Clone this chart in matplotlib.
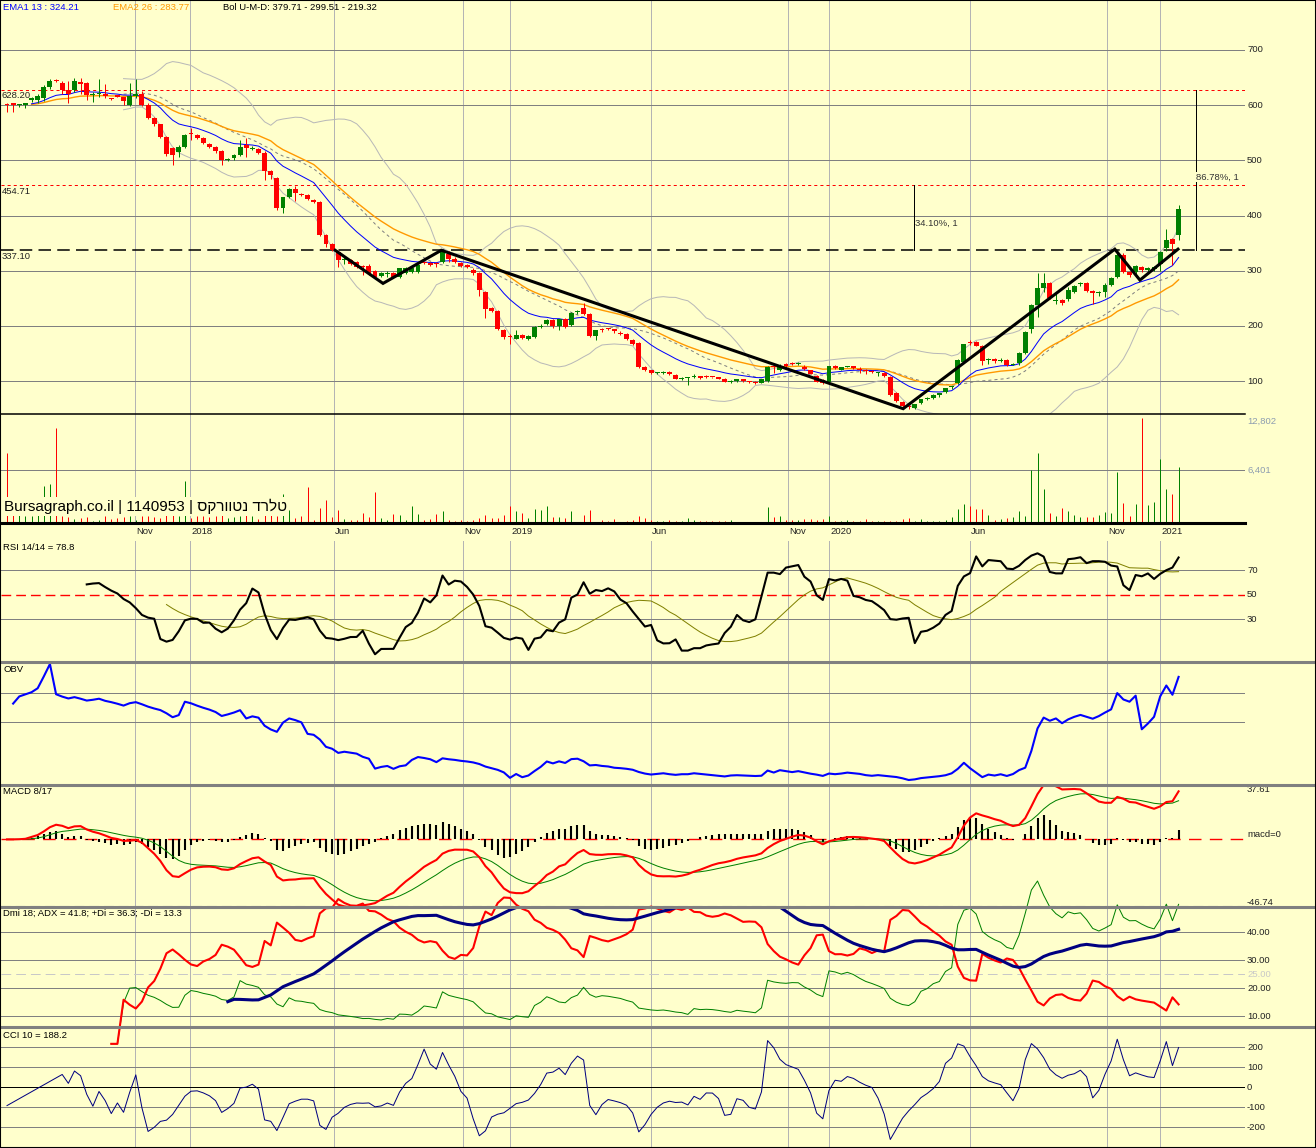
import numpy as np
import pandas as pd
import matplotlib
matplotlib.use("Agg")
import matplotlib.pyplot as plt
from matplotlib.lines import Line2D
from matplotlib.transforms import blended_transform_factory as blend

plt.rcParams['font.family'] = ['Liberation Sans', 'DejaVu Sans']
plt.rcParams['lines.scale_dashes'] = False

W, H = 1316, 1148
BG = '#FFFFCC'
PX = 0.72          # one pixel in points (dpi 100)
FS = 6.8

# weekly candles, Jun 2017 - Jan 2021
opens = [602, 603, 600, 600, 609, 609, 612, 632, 646, 640,
         627, 627, 642, 640, 619, 620, 621, 612, 618, 614,
         601, 617, 621, 601, 577, 565, 542, 522, 515, 525,
         549, 545, 540, 530, 525, 516, 501, 504, 510, 528,
         521, 521, 514, 481, 468, 413, 433, 448, 439, 438,
         428, 425, 365, 348, 334, 319, 320, 316, 308, 308,
         299, 290, 294, 296, 289, 296, 298, 298, 316, 314,
         314, 316, 331, 322, 314, 311, 302, 295, 261, 232,
         227, 192, 181, 177, 183, 177, 180, 198, 203, 210,
         199, 213, 201, 226, 233, 221, 181, 193, 195, 194,
         187, 186, 174, 169, 125, 120, 115, 115, 117, 111,
         104, 105, 108, 109, 108, 108, 107, 104, 99, 100,
         103, 100, 99, 97, 100, 126, 121, 131, 132, 131,
         126, 120, 109, 102, 99, 127, 121, 126, 127, 122,
         120, 118, 114, 115, 108, 78, 63, 54, 51, 61,
         67, 70, 74, 81, 89, 96, 135, 171, 171, 163,
         138, 140, 137, 139, 130, 132, 151, 195, 237, 268,
         277, 246, 247, 248, 261, 276, 278, 263, 259, 261,
         275, 288, 328, 298, 298, 307, 302, 303, 313, 342,
         357, 364]
highs = [603, 604, 602, 604, 614, 620, 637, 647, 648, 643,
         644, 649, 649, 642, 623, 648, 639, 613, 619, 615,
         640, 648, 626, 603, 579, 566, 544, 524, 527, 548,
         559, 547, 542, 532, 526, 518, 505, 511, 537, 540,
         526, 523, 516, 483, 470, 434, 450, 454, 441, 439,
         430, 427, 367, 350, 336, 324, 322, 318, 311, 313,
         301, 297, 300, 297, 305, 306, 305, 311, 318, 316,
         316, 337, 336, 324, 316, 313, 304, 297, 263, 234,
         229, 194, 186, 192, 186, 183, 199, 204, 212, 212,
         213, 215, 225, 229, 242, 223, 193, 196, 196, 195,
         190, 188, 176, 170, 127, 121, 117, 118, 118, 112,
         107, 107, 113, 110, 111, 108, 108, 105, 102, 104,
         104, 101, 100, 104, 127, 129, 131, 132, 134, 135,
         129, 121, 111, 103, 128, 129, 126, 128, 128, 125,
         122, 120, 116, 116, 109, 80, 64, 55, 59, 68,
         71, 76, 79, 88, 92, 140, 168, 174, 173, 165,
         142, 141, 141, 140, 133, 153, 190, 240, 295, 295,
         279, 259, 249, 270, 275, 279, 280, 265, 263, 277,
         288, 338, 332, 300, 310, 309, 307, 308, 336, 376,
         360, 419]
lows = [587, 588, 597, 594, 606, 603, 608, 630, 641, 620,
        603, 623, 620, 609, 605, 614, 612, 609, 614, 601,
        599, 612, 599, 575, 563, 540, 508, 492, 506, 523,
        536, 539, 529, 523, 514, 492, 498, 500, 508, 506,
        518, 512, 465, 467, 410, 405, 431, 427, 436, 428,
        422, 362, 343, 335, 307, 313, 311, 305, 293, 293,
        287, 288, 288, 286, 287, 294, 296, 296, 313, 309,
        307, 314, 315, 314, 307, 305, 293, 254, 214, 225,
        193, 177, 168, 176, 176, 175, 178, 196, 201, 197,
        192, 196, 199, 222, 219, 179, 174, 189, 193, 188,
        183, 175, 166, 124, 119, 113, 113, 113, 111, 103,
        102, 93, 106, 103, 105, 106, 103, 98, 97, 99,
        99, 97, 95, 96, 99, 115, 119, 126, 129, 130,
        120, 112, 98, 94, 97, 122, 120, 125, 122, 115,
        113, 114, 110, 108, 73, 62, 52, 50, 50, 59,
        65, 68, 72, 79, 86, 94, 132, 165, 163, 130,
        131, 133, 135, 128, 129, 130, 149, 188, 217, 262,
        248, 240, 237, 246, 259, 273, 261, 239, 255, 252,
        272, 286, 296, 289, 288, 298, 298, 300, 300, 336,
        310, 355]
closes = [600, 600, 601, 603, 613, 617, 632, 644, 643, 628,
          620, 643, 639, 619, 621, 622, 616, 611, 615, 608,
          617, 620, 601, 577, 565, 542, 512, 510, 525, 546,
          547, 541, 531, 525, 516, 501, 503, 510, 525, 522,
          523, 514, 481, 474, 413, 433, 448, 440, 438, 430,
          424, 364, 349, 337, 319, 321, 313, 307, 306, 295,
          289, 296, 295, 288, 304, 305, 304, 310, 314, 311,
          312, 334, 322, 316, 309, 307, 295, 265, 231, 227,
          195, 179, 180, 183, 178, 182, 198, 199, 210, 199,
          212, 198, 223, 227, 221, 181, 192, 192, 194, 190,
          186, 177, 168, 126, 120, 115, 116, 116, 112, 104,
          105, 105, 109, 105, 107, 107, 104, 99, 100, 103,
          100, 98, 97, 103, 125, 125, 127, 127, 131, 133,
          122, 113, 99, 96, 127, 123, 125, 127, 123, 121,
          119, 117, 115, 109, 75, 64, 54, 53, 58, 67,
          70, 75, 78, 87, 91, 138, 167, 169, 164, 137,
          139, 137, 139, 130, 131, 151, 189, 237, 268, 278,
          250, 247, 242, 265, 273, 277, 263, 259, 260, 275,
          286, 328, 298, 292, 308, 302, 305, 306, 334, 356,
          348, 412]
volumes = [8420, 2400, 2700, 800, 800, 1500, 4470, 4710, 11440, 900,
           700, 500, 600, 700, 300, 400, 800, 500, 600, 700,
           900, 400, 800, 900, 700, 600, 1200, 1500, 800, 5070,
           600, 900, 800, 700, 900, 1500, 600, 700, 900, 3140,
           800, 500, 3060, 1400, 900, 3500, 1570, 640, 850, 4350,
           360, 1770, 2780, 720, 1570, 440, 360, 360, 1210, 720,
           3740, 640, 360, 1090, 970, 360, 2050, 1090, 360, 480,
           1090, 1450, 360, 240, 360, 240, 360, 600, 970, 600,
           640, 970, 2050, 1450, 1210, 640, 1690, 1570, 2050, 720,
           760, 600, 1450, 160, 970, 1570, 160, 360, 200, 480,
           160, 240, 360, 850, 600, 360, 240, 240, 360, 240,
           240, 640, 360, 240, 240, 240, 240, 240, 360, 100,
           100, 100, 100, 100, 1970, 760, 890, 360, 360, 360,
           480, 480, 360, 480, 890, 240, 240, 360, 240, 240,
           480, 240, 240, 240, 240, 240, 480, 640, 240, 480,
           240, 240, 240, 360, 720, 1690, 2300, 2050, 1690, 1690,
           970, 360, 480, 640, 720, 1500, 900, 6360, 8500, 4110,
           1210, 890, 1810, 1450, 970, 720, 720, 720, 1000, 1330,
           1210, 6160, 2420, 850, 2300, 12720, 2180, 2540, 7730, 4110,
           3500, 6760]

tick_labels = ['Nov', '2018', 'Jun', 'Nov', '2019', 'Jun', 'Nov', '2020', 'Jun', 'Nov', '2021']
tick_pos = [20.9, 29.8, 53.3, 74.3, 82.0, 105.0, 127.3, 134.0, 157.0, 179.3, 188.0]

price_grid = [100, 200, 300, 400, 500, 600, 700]
red_levels = [628.20, 454.71]
support = 337.10
trend_x = [53.5, 61.3, 70.8, 146.1, 180.6, 184.7, 190.9]
trend_y = [337, 277, 337, 50, 339, 283, 339]
measure_x = [147.9, 193.8]
measure_top = [454.71, 628.20]
measure_text = ['34.10%, 1', '86.78%, 1']
measure_label_y = [385, 470]

macd_top, macd_bottom = 37.61, -46.74
cci_first = -93

# ---- indicators ----
o = pd.Series(opens, dtype=float)
h = pd.Series(highs, dtype=float)
l = pd.Series(lows, dtype=float)
c = pd.Series(closes, dtype=float)
v = pd.Series(volumes, dtype=float)
n = len(c)
xi = np.arange(n)

ema13 = c.ewm(span=13, adjust=False).mean()
ema26 = c.ewm(span=26, adjust=False).mean()
ema13[:4] = np.nan
ema26[:4] = np.nan
bmid = c.rolling(20).mean()
bsd = c.rolling(20).std(ddof=0)
bup = bmid + 2 * bsd
bdn = bmid - 2 * bsd

d = c.diff()
gain = d.clip(lower=0)
loss = -d.clip(upper=0)
ag = gain.rolling(14, min_periods=13).mean()
al = loss.rolling(14, min_periods=13).mean()
rsi = 100 * ag / (ag + al)
rsi_ma = rsi.rolling(14).mean()

obv = (np.sign(c - o) * v)
obv[:2] = 0
obv = obv.cumsum()
obv[:1] = np.nan

macd = c.ewm(span=8, adjust=False).mean() - c.ewm(span=17, adjust=False).mean()
signal = macd.ewm(span=9, adjust=False).mean()
hist = macd - signal

up_move = h.diff()
dn_move = -l.diff()
pdm = pd.Series(np.where((up_move > dn_move) & (up_move > 0), up_move, 0.0))
mdm = pd.Series(np.where((dn_move > up_move) & (dn_move > 0), dn_move, 0.0))
tr = pd.concat([h - l, (h - c.shift()).abs(), (l - c.shift()).abs()], axis=1).max(axis=1)
atr = tr.ewm(alpha=1 / 18, adjust=False).mean()
pdi = 100 * pdm.ewm(alpha=1 / 18, adjust=False).mean() / atr
mdi = 100 * mdm.ewm(alpha=1 / 18, adjust=False).mean() / atr
dx = 100 * (pdi - mdi).abs() / (pdi + mdi)
dx[:19] = 0
adx = dx.ewm(alpha=1 / 22, adjust=False).mean()
pdi[:17] = np.nan
mdi[:17] = np.nan
pdi[17:19] = 0
mdi[17:19] = 0
adx[:36] = np.nan

tp = (h + l + c) / 3
tp_ma = tp.rolling(10).mean()
tp_md = tp.rolling(10).apply(lambda a: np.mean(np.abs(a - a.mean())), raw=True)
cci = (tp - tp_ma) / (0.015 * tp_md)
cci[0] = cci_first
cci_ok = cci.notna().values

# ---- figure ----
fig = plt.figure(figsize=(W / 100, H / 100), dpi=100, facecolor=BG)
XMIN, XMAX = (1 - 7) / 6.134, (1245 - 7) / 6.134


def panel(top, bottom):
    ax = fig.add_axes([1 / W, 1 - bottom / H, 1244 / W, (bottom - top) / H])
    ax.set_facecolor(BG)
    ax.set_xlim(XMIN, XMAX)
    ax.set_xticks([])
    ax.set_yticks([])
    for s in ax.spines.values():
        s.set_visible(False)
    for t in tick_pos:
        ax.axvline(t, color='#b4b4b4', lw=PX, zorder=0)
    return ax


def hgrid(ax, y, color='#808080', lw=PX, ls='-'):
    ax.axhline(y, color=color, lw=lw, ls=ls, zorder=0.5)


def rlabel(ax, y, s, color='#222222', va='center'):
    ax.text(1 + 2 / 1244, y, s, transform=ax.get_yaxis_transform(), ha='left', va=va,
            fontsize=FS, color=color, clip_on=False)


def sep(y, x1, color, lw):
    fig.add_artist(Line2D([0, x1 / W], [1 - y / H] * 2, transform=fig.transFigure, color=color, lw=lw,
                          zorder=10))


# price panel
ax = panel(1, 414)
ax.set_ylim(40.4, 788.6)
for g in price_grid:
    hgrid(ax, g)
    rlabel(ax, g, str(g))
up = c >= o
col = np.where(up, '#008000', '#FF0000')
ax.vlines(xi, l, h, colors=col, lw=PX, zorder=3)
body = np.maximum((c - o).abs(), 1.8)
ax.bar(xi, body, bottom=np.minimum(o, c), width=0.8, color=col, lw=0, zorder=3)
ax.plot(xi, bup, color='#b8b8b8', lw=PX, zorder=2)
ax.plot(xi, bdn, color='#b8b8b8', lw=PX, zorder=2)
ax.plot(xi, bmid, color='#808080', lw=PX, ls=(0, (2.2, 2.2)), zorder=2)
ax.plot(xi, ema26, color='#FF9900', lw=1.0, zorder=2)
ax.plot(xi, ema13, color='#0000FF', lw=PX, zorder=2)
for lv in red_levels:
    ax.axhline(lv, color='#FF0000', lw=PX, ls=(0, (2.2, 2.2)), zorder=1)
ax.axhline(support, color='#000000', lw=1.1, ls=(0, (9, 4.5)), zorder=1)
ax.plot(trend_x, trend_y, color='#000000', lw=2.2, zorder=4, solid_joinstyle='miter')
for mx, mt, txt, ly in zip(measure_x, measure_top, measure_text, measure_label_y):
    ax.plot([mx, mx], [support, mt], color='#000000', lw=PX, zorder=4)
    ax.text(mx + 0.1, ly, txt, fontsize=FS, color='#333333', ha='left', va='center', zorder=5,
            bbox=dict(facecolor=BG, edgecolor='none', pad=0.5) if mt > 600 else None)
lt = blend(fig.transFigure, ax.transData)
for lv in red_levels + [support]:
    ax.text(2 / W, lv - 3, f'{lv:.2f}', transform=lt, fontsize=FS, color='#222222', va='top', ha='left', zorder=5)
fig.text(3 / W, 1 - 7 / H, 'EMA1 13 : 324.21', color='#0000FF', fontsize=FS, va='center')
fig.text(113 / W, 1 - 7 / H, 'EMA2 26 : 283.77', color='#FF9900', fontsize=FS, va='center')
fig.text(223 / W, 1 - 7 / H, 'Bol U-M-D: 379.71 - 299.51 - 219.32', color='#000000', fontsize=FS, va='center')

# volume panel
axv = panel(414, 523)
axv.set_ylim(0, 13170)
hgrid(axv, 6401)
rlabel(axv, 6401, '6,401', color='#8c9cb0')
rlabel(axv, 12802, '12,802', color='#8c9cb0', va='top')
axv.vlines(xi, 0, v, colors=col, lw=PX, zorder=3)
axv.text(4 / W, 0.08, 'Bursagraph.co.il | 1140953 | ' + 'סקרווטנ דרלט',
         transform=blend(fig.transFigure, axv.transAxes), fontsize=11, color='#000000',
         va='bottom', ha='left', zorder=6, bbox=dict(facecolor=BG, edgecolor='none', pad=1.2))
dt = blend(axv.transData, fig.transFigure)
for t, s in zip(tick_pos, tick_labels):
    axv.text(t + 0.2, 1 - 531 / H, s, transform=dt, fontsize=FS, color='#222222', ha='left', va='center')

# RSI
axr = panel(541, 662)
axr.set_ylim(-5.1, 93.7)
for g in (70, 30):
    hgrid(axr, g)
    rlabel(axr, g, str(g))
hgrid(axr, 50, color='#FF0000', lw=1.0, ls=(0, (7, 3.6)))
rlabel(axr, 50, '50')
axr.plot(xi, rsi_ma, color='#808000', lw=PX)
axr.plot(xi, rsi, color='#000000', lw=1.5)
axr.text(3 / W, 1 - 547 / H, 'RSI 14/14 = 78.8', transform=fig.transFigure, fontsize=FS, va='center')

# OBV
axo = panel(662, 785)
mn, mx_ = obv.min(), obv.max()
ppx = (123 - 7) / (mx_ - mn)
axo.set_ylim(mn - 5 / ppx, mx_ + 2 / ppx)
for f in (0.748, 0.512):
    axo.plot([0, 1], [f, f], transform=axo.transAxes, color='#808080', lw=PX, zorder=0.5)
axo.plot(xi, obv, color='#0000FF', lw=1.5)
axo.text(3 / W, 1 - 669 / H, 'OBV', transform=fig.transFigure, fontsize=FS, va='center')

# MACD
axm = panel(785, 907)
axm.set_ylim(macd_bottom, macd_top)
hgrid(axm, macd_top, color='#a0a0a0', lw=1.5, ls=(0, (7, 3.6)))
hgrid(axm, macd_bottom, color='#a0a0a0', lw=1.5, ls=(0, (7, 3.6)))
hgrid(axm, 0, color='#FF0000', lw=1.0, ls=(0, (9, 6)))
rlabel(axm, macd_top, '37.61', va='top')
rlabel(axm, 0, 'macd=0', va='bottom')
rlabel(axm, macd_bottom, '-46.74', va='bottom')
axm.vlines(xi[1:], 0, hist[1:], colors='#000000', lw=1.5, zorder=2)
axm.plot(xi, signal, color='#008000', lw=PX, zorder=3)
axm.plot(xi, macd, color='#FF0000', lw=1.5, zorder=3)
axm.text(3 / W, 1 - 792 / H, 'MACD 8/17', transform=fig.transFigure, fontsize=FS, va='center')

# DMI
axd = panel(907, 1027)
axd.set_zorder(3)
axd.set_ylim(6.05, 49.16)
for g in (40, 30, 20, 10):
    hgrid(axd, g)
    rlabel(axd, g, f'{g:.2f}')
hgrid(axd, 25, color='#c8c8c8', lw=PX, ls=(0, (7, 3.6)))
rlabel(axd, 25, '25.00', color='#c8c8c8')
axd.plot(xi, pdi, color='#008000', lw=PX, clip_on=False, zorder=3)
axd.plot(xi, mdi, color='#FF0000', lw=1.5, clip_on=False, zorder=3)
axd.plot(xi, adx, color='#000080', lw=2.2, zorder=4)
axd.text(3 / W, 1 - 913 / H, 'Dmi 18; ADX = 41.8; +Di = 36.3; -Di = 13.3', transform=fig.transFigure,
         fontsize=FS, va='center')

# CCI
axc = panel(1027, 1147)
axc.set_ylim(-300, 300)
for g in (200, 100, -100, -200):
    hgrid(axc, g)
    rlabel(axc, g, str(g))
hgrid(axc, 0, color='#000000')
rlabel(axc, 0, '0')
axc.plot(xi[cci_ok], cci[cci_ok], color='#000080', lw=PX)
axc.text(3 / W, 1 - 1035 / H, 'CCI 10 = 188.2', transform=fig.transFigure, fontsize=FS, va='center')

# separators and frame
sep(414, 1245, '#000000', 1.1)
sep(523, 1245, '#000000', 2.2)
for y in (662, 785, 907, 1027):
    sep(y, W, '#808080', 2.2)
fig.add_artist(plt.Rectangle((0, 0), 1, 1, transform=fig.transFigure, fill=False, edgecolor='#000000', lw=1.5,
                             zorder=11))

fig.savefig('out.png', dpi=100, facecolor=BG)
